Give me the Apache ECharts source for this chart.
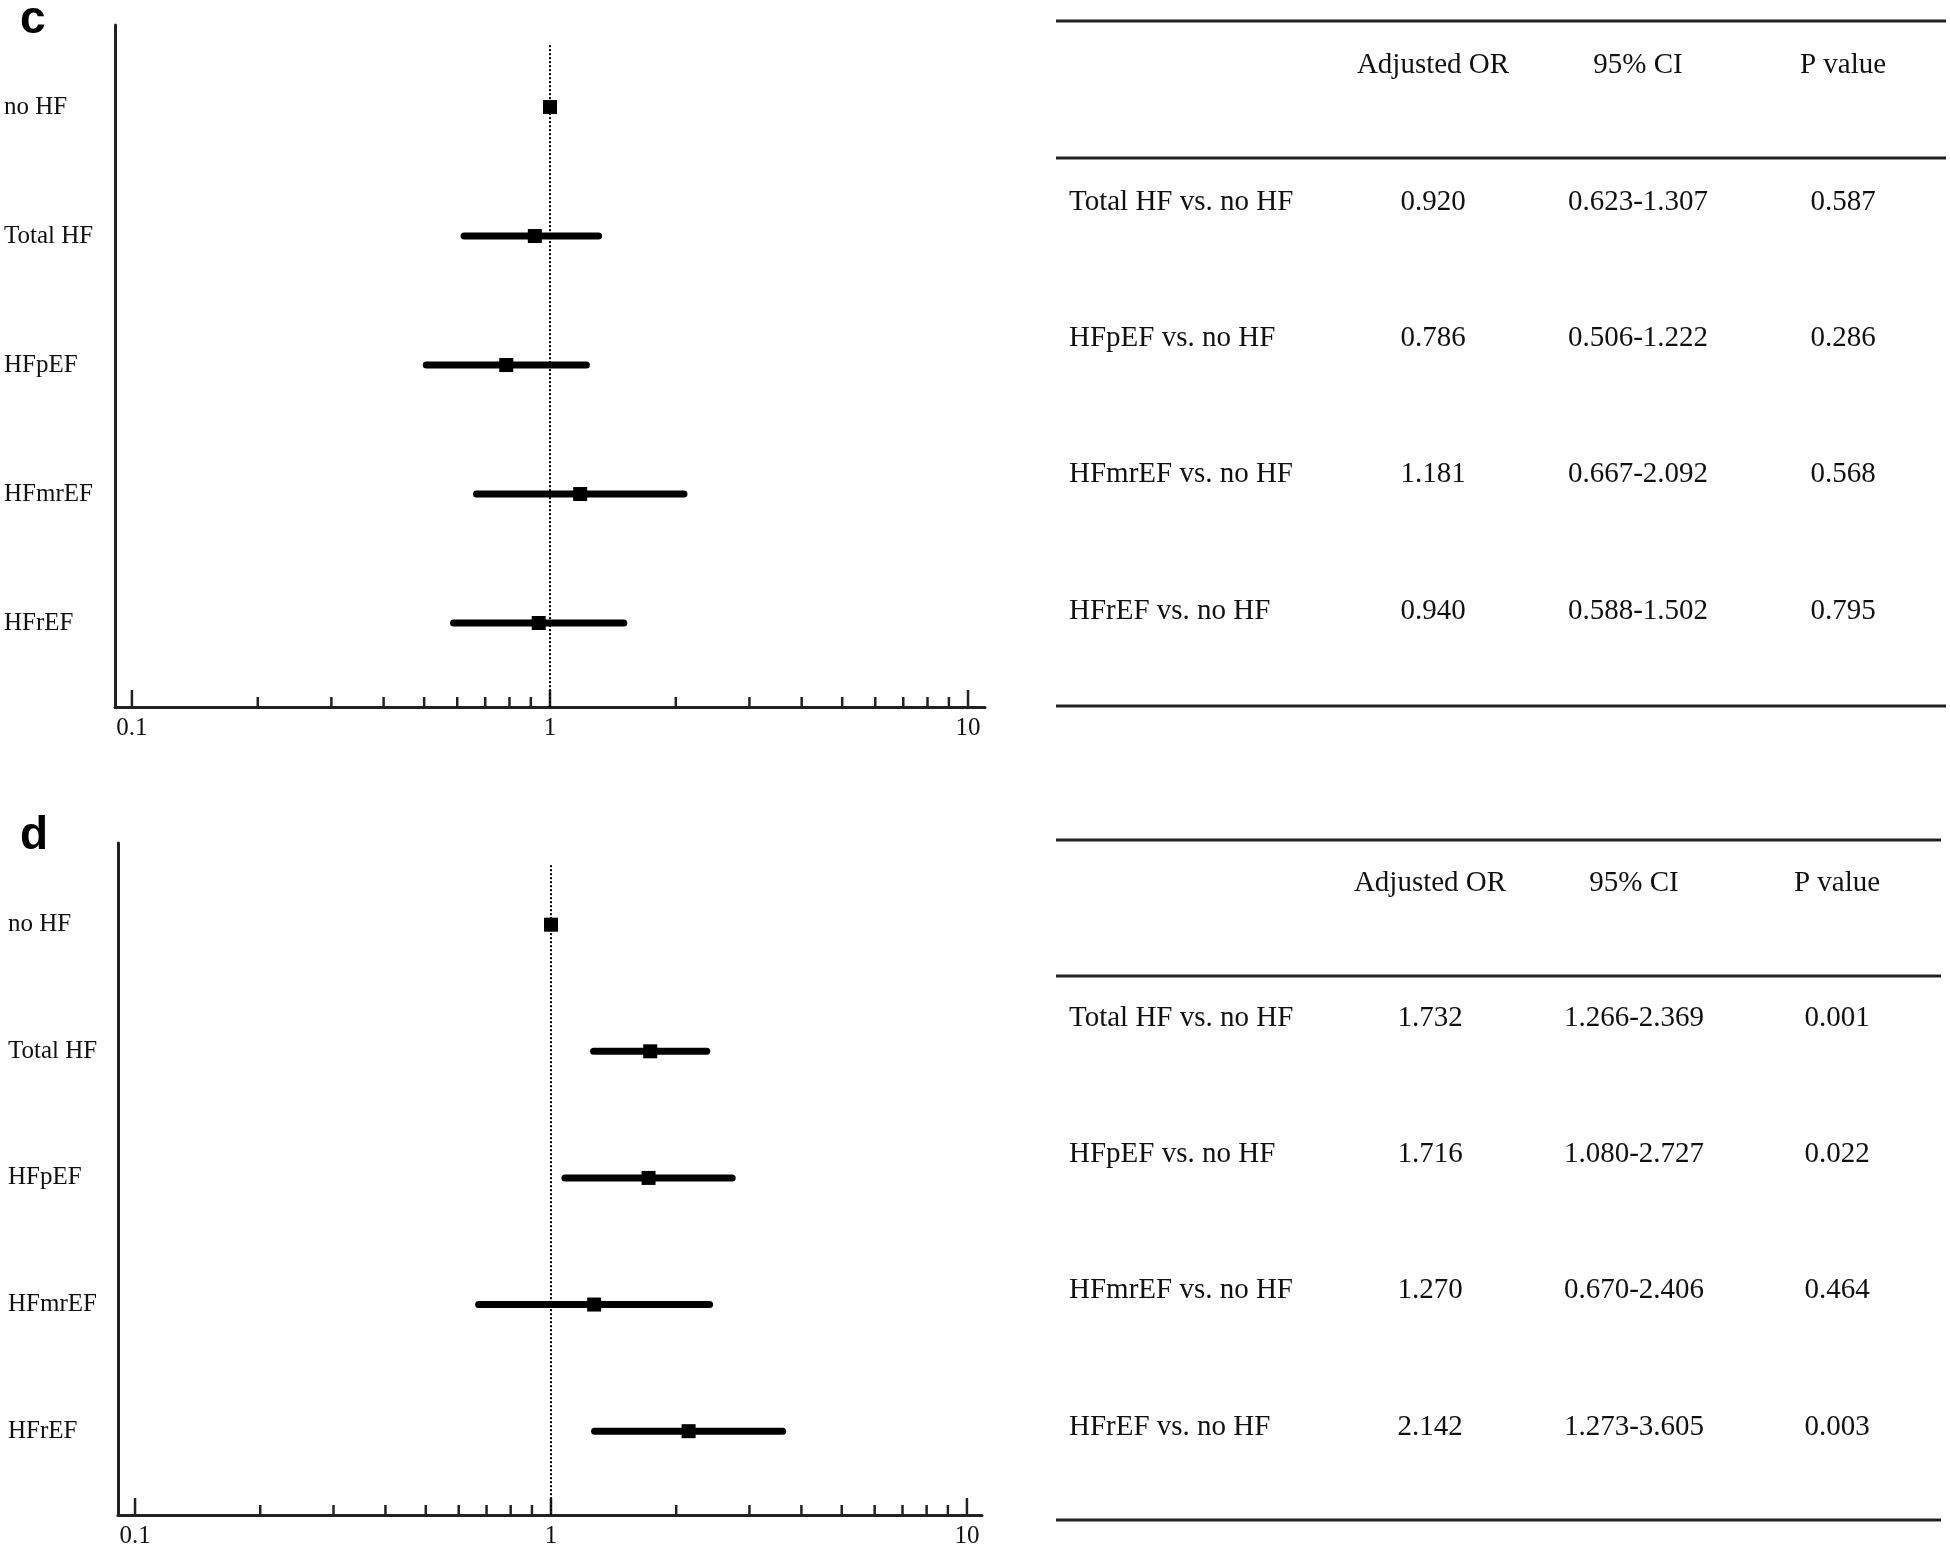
<!DOCTYPE html>
<html>
<head>
<meta charset="utf-8">
<script src="https://cdn.jsdelivr.net/npm/echarts@6/dist/echarts.min.js"></script>
<style>
  html, body { margin: 0; padding: 0; background: #fff; }
  #chart { width: 1950px; height: 1549px; }
</style>
</head>
<body>
<div id="chart"></div>
<script>
// ---- data ----
const rowNames = ['no HF', 'Total HF', 'HFpEF', 'HFmrEF', 'HFrEF'];
const compNames = ['Total HF vs. no HF', 'HFpEF vs. no HF', 'HFmrEF vs. no HF', 'HFrEF vs. no HF'];
const headers = ['Adjusted OR', '95% CI', 'P value'];

// panel c
const orC = [1, 0.920, 0.786, 1.181, 0.940];
const loC = [null, 0.623, 0.506, 0.667, 0.588];
const hiC = [null, 1.307, 1.222, 2.092, 1.502];
const pC = [0.587, 0.286, 0.568, 0.795];

// panel d
const orD = [1, 1.732, 1.716, 1.270, 2.142];
const loD = [null, 1.266, 1.080, 0.670, 1.273];
const hiD = [null, 2.369, 2.727, 2.406, 3.605];
const pD = [0.001, 0.022, 0.464, 0.003];

// log axis ticks
const majorTicks = [0.1, 1, 10];
const minorTicks = [0.2, 0.3, 0.4, 0.5, 0.6, 0.7, 0.8, 0.9, 2, 3, 4, 5, 6, 7, 8, 9];

// ---- layout ----
const SERIF = '"Liberation Serif", "Times New Roman", serif';
const INK = '#111';

const panels = [
  {
    letter: 'c', letterY: 20,
    or: orC, lo: loC, hi: hiC, p: pC,
    grid: { left: 115, top: 25, width: 870, height: 682 },
    xMin: 0.0911, xMax: 10.98, yMin: -0.636, yMax: 4.651, refTop: -0.48, labelX: 4,
    table: { x0: 1056, x1: 1946, top: 21, headY: 65, line2: 158, row0: 202, step: 136.4, bottom: 706,
             labelX: 1069, cols: [1433, 1638, 1843] }
  },
  {
    letter: 'd', letterY: 836,
    or: orD, lo: loD, hi: hiD, p: pD,
    grid: { left: 118, top: 843, width: 864, height: 675 },
    xMin: 0.091, xMax: 10.87, yMin: -0.645, yMax: 4.662, refTop: -0.47, labelX: 8,
    table: { x0: 1056, x1: 1941, top: 840, headY: 883, line2: 976, row0: 1018, step: 136.4, bottom: 1520,
             labelX: 1069, cols: [1430, 1634, 1837] }
  }
];

function isDecade(v) {
  const l = Math.log10(v);
  return Math.abs(l - Math.round(l)) < 1e-6;
}

const grids = [], xAxes = [], yAxes = [], series = [], graphic = [];

panels.forEach((pn, k) => {
  grids.push(pn.grid);
  xAxes.push({
    type: 'log', gridIndex: k, min: pn.xMin, max: pn.xMax,
    axisLine: { show: true, onZero: false, lineStyle: { color: '#222', width: 3 } },
    axisTick: { show: false },
    splitLine: { show: false },
    axisLabel: {
      margin: 9, fontSize: 25, fontFamily: SERIF, color: INK,
      formatter: v => isDecade(v) ? String(+v.toPrecision(6)) : ''
    }
  });
  yAxes.push({
    type: 'value', gridIndex: k, inverse: true, min: pn.yMin, max: pn.yMax,
    axisLine: { show: true, onZero: false, lineStyle: { color: '#222', width: 3 } },
    axisTick: { show: false }, axisLabel: { show: false }, splitLine: { show: false }
  });

  // ticks along the log axis (pointing up)
  const tickData = majorTicks.map(v => [v, pn.yMax, 1]).concat(minorTicks.map(v => [v, pn.yMax, 0]));
  series.push({
    type: 'custom', xAxisIndex: k, yAxisIndex: k, silent: true,
    data: tickData, encode: { x: 0, y: 1 },
    renderItem: (params, api) => {
      const pt = api.coord([api.value(0), api.value(1)]);
      const len = api.value(2) ? 17 : 10;
      return { type: 'line', shape: { x1: pt[0], y1: pt[1], x2: pt[0], y2: pt[1] - len },
               style: { stroke: '#222', lineWidth: 2.5 } };
    }
  });

  // row labels
  series.push({
    type: 'custom', xAxisIndex: k, yAxisIndex: k, silent: true,
    data: rowNames.map((n, i) => [1, i]), encode: { x: 0, y: 1 },
    renderItem: (params, api) => {
      const y = api.coord([1, api.value(1)])[1];
      return { type: 'text', style: { x: pn.labelX, y: y, text: rowNames[params.dataIndex],
               font: '25px ' + SERIF, fill: INK, align: 'left', verticalAlign: 'middle',
               textAlign: 'left', textVerticalAlign: 'middle' } };
    }
  });

  // confidence interval bars
  const ciData = [];
  pn.lo.forEach((lo, i) => { if (lo != null) ciData.push([i, lo, pn.hi[i]]); });
  series.push({
    type: 'custom', xAxisIndex: k, yAxisIndex: k, silent: true,
    data: ciData, encode: { x: [1, 2], y: 0 },
    renderItem: (params, api) => {
      const a = api.coord([api.value(1), api.value(0)]);
      const b = api.coord([api.value(2), api.value(0)]);
      return { type: 'line', shape: { x1: a[0], y1: a[1], x2: b[0], y2: b[1] },
               style: { stroke: '#000', lineWidth: 7, lineCap: 'round' } };
    }
  });

  // point estimates + reference line at OR = 1
  series.push({
    type: 'scatter', xAxisIndex: k, yAxisIndex: k, silent: true,
    symbol: 'rect', symbolSize: 14, itemStyle: { color: '#000', opacity: 1 },
    data: pn.or.map((v, i) => [v, i]),
    z: 5,
    markLine: {
      silent: true, symbol: 'none', label: { show: false },
      lineStyle: { color: '#000', width: 2, type: [2, 2], opacity: 1 },
      data: [[{ coord: [1, pn.refTop] }, { coord: [1, pn.yMax] }]]
    }
  });

  // panel letter
  graphic.push({
    type: 'text', x: 20, y: pn.letterY,
    style: { text: pn.letter, font: 'bold 46px "Liberation Sans", Arial, sans-serif', fill: '#000',
             align: 'left', verticalAlign: 'middle', textAlign: 'left', textVerticalAlign: 'middle' }
  });

  // table
  const t = pn.table;
  [t.top, t.line2, t.bottom].forEach(y => {
    graphic.push({ type: 'line', shape: { x1: t.x0, y1: y, x2: t.x1, y2: y },
                   style: { stroke: '#222', lineWidth: 3 } });
  });
  const txt = (x, y, s, align) => ({
    type: 'text', x: x, y: y,
    style: { text: s, font: '29px ' + SERIF, fill: INK, align: align, verticalAlign: 'middle',
             textAlign: align, textVerticalAlign: 'middle' }
  });
  headers.forEach((h, j) => graphic.push(txt(t.cols[j], t.headY, h, 'center')));
  compNames.forEach((name, r) => {
    const i = r + 1;
    const y = t.row0 + r * t.step;
    graphic.push(txt(t.labelX, y, name, 'left'));
    graphic.push(txt(t.cols[0], y, pn.or[i].toFixed(3), 'center'));
    graphic.push(txt(t.cols[1], y, pn.lo[i].toFixed(3) + '-' + pn.hi[i].toFixed(3), 'center'));
    graphic.push(txt(t.cols[2], y, pn.p[r].toFixed(3), 'center'));
  });
});

const chart = echarts.init(document.getElementById('chart'), null, { renderer: 'canvas' });
chart.setOption({
  animation: false,
  backgroundColor: '#fff',
  grid: grids,
  xAxis: xAxes,
  yAxis: yAxes,
  series: series,
  graphic: graphic
});
</script>
</body>
</html>
